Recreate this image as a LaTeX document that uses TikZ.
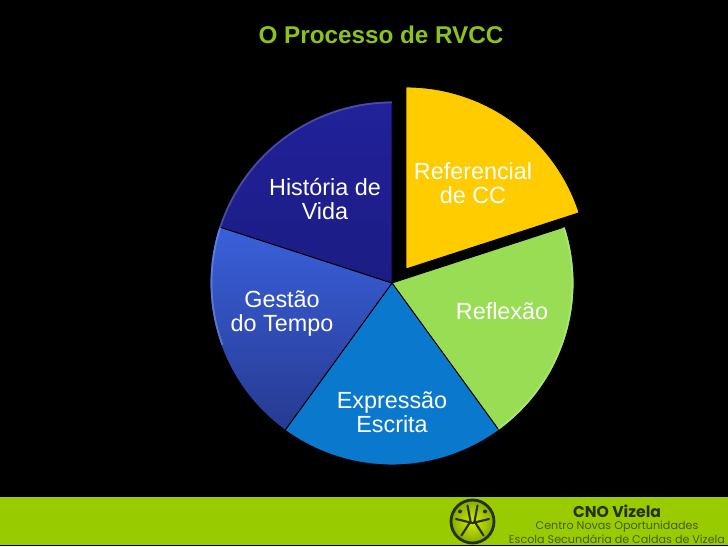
\documentclass[tikz,border=0pt]{standalone}
\usepackage{fontspec}
\setmainfont{Liberation Sans}
\newfontfamily\logofont{Poppins}
\definecolor{titlegreen}{HTML}{8CC21E}
\definecolor{barcolor}{HTML}{99CC00}
\definecolor{sliceyellow}{HTML}{FFCC00}
\definecolor{slicegreen}{HTML}{99DD55}
\definecolor{sliceblue}{HTML}{0A78CC}
\definecolor{slicemid}{HTML}{3A60DC}
\definecolor{slicemidlow}{HTML}{263A90}
\definecolor{slicedark}{HTML}{1C1C84}
\definecolor{slicedarktop}{HTML}{21219A}
\definecolor{logoink}{HTML}{26300A}
\definecolor{logogrey}{HTML}{4A5A12}
\tikzset{
    slice/.style={draw=black, line width=0.5pt},
    slicelabel/.style={text=white, align=center, font=\fontsize{13.3}{13.7}\selectfont},
    logotext/.style={text=logogrey, font=\logofont\fontsize{6.35}{8}\selectfont},
    logoline/.style={draw=logoink, line width=1.2pt, line cap=round},
    slicerim/.style={line width=1pt, opacity=0.5}
}
\begin{document}
\begin{tikzpicture}
    \useasboundingbox (0,0) rectangle (14.56,10.92);
    \fill[black] (0,0) rectangle (14.56,10.92);
    
    % Title
    \node[text=titlegreen, font=\fontsize{13.8}{16}\selectfont\bfseries] (title) at (7.62,10.22) {O Processo de RVCC};
    
    % Pie
    \begin{scope}[shift={(7.84,5.26)}]
        \path[slice, fill=slicegreen] (0,0) -- (18:3.64) arc (18:-54:3.64) -- cycle;
        \path[slice, fill=sliceblue] (0,0) -- (-54:3.64) arc (-54:-126:3.64) -- cycle;
        \path[slice, top color=slicemid, bottom color=slicemidlow] (0,0) -- (-126:3.64) arc (-126:-198:3.64) -- cycle;
        \path[slice, top color=slicedarktop, bottom color=slicedark] (0,0) -- (162:3.64) arc (162:90:3.64) -- cycle;
        
        % Lighter rims
        \draw[slicerim, slicegreen!60!white] (18:3.61) arc (18:-54:3.61);
        \draw[slicerim, slicemid!60!white] (162:3.61) arc (162:200:3.61);
        \draw[slicerim, slicedark!60!white] (162:3.61) arc (162:90:3.61);
        
        % Pulled out slice
        \begin{scope}[shift={(0.28,0.28)}]
            \path[slice, fill=sliceyellow] (0,0) -- (18:3.64) arc (18:90:3.64) -- cycle;
        \end{scope}
    \end{scope}
    
    % Slice labels
    \node[slicelabel] (referencial) at (9.46,7.26) {Referencial\\de CC};
    \node[slicelabel] (reflexao) at (10.04,4.7) {Reflexão};
    \node[slicelabel] (expressao) at (7.84,2.68) {Expressão\\Escrita};
    \node[slicelabel] (gestao) at (5.64,4.65) {Gestão\\do Tempo};
    \node[slicelabel] (historia) at (6.5,6.94) {História de\\Vida};
    
    % Footer
    \fill[barcolor] (0,0.02) rectangle (14.56,0.98);
    \node[text=logoink, font=\logofont\fontsize{8.9}{10}\selectfont\bfseries] (cno) at (12.34,0.7) {CNO Vizela};
    \node[logotext] (centro) at (12.34,0.39) {Centro Novas Oportunidades};
    \node[logotext] (escola) at (12.34,0.14) {Escola Secundária de Caldas de Vizela};
    
    % Logo
    \begin{scope}[shift={(9.45,0.49)}]
        \draw[draw=logoink, line width=1.6pt, inner color=barcolor!40!yellow, outer color=barcolor!85!black] (0,0) circle (0.43);
        \draw[logoline] (-0.33,0.05) -- (0,-0.03) -- (0.33,0.05);
        \draw[logoline] (-0.1,0.32) -- (-0.04,0) -- (-0.22,-0.28);
        \draw[logoline] (0.1,0.32) -- (0.04,0) -- (0.22,-0.28);
        \fill[logoink] (-0.25,0.2) circle (0.04) (0.25,0.2) circle (0.04);
    \end{scope}
\end{tikzpicture}
\end{document}
